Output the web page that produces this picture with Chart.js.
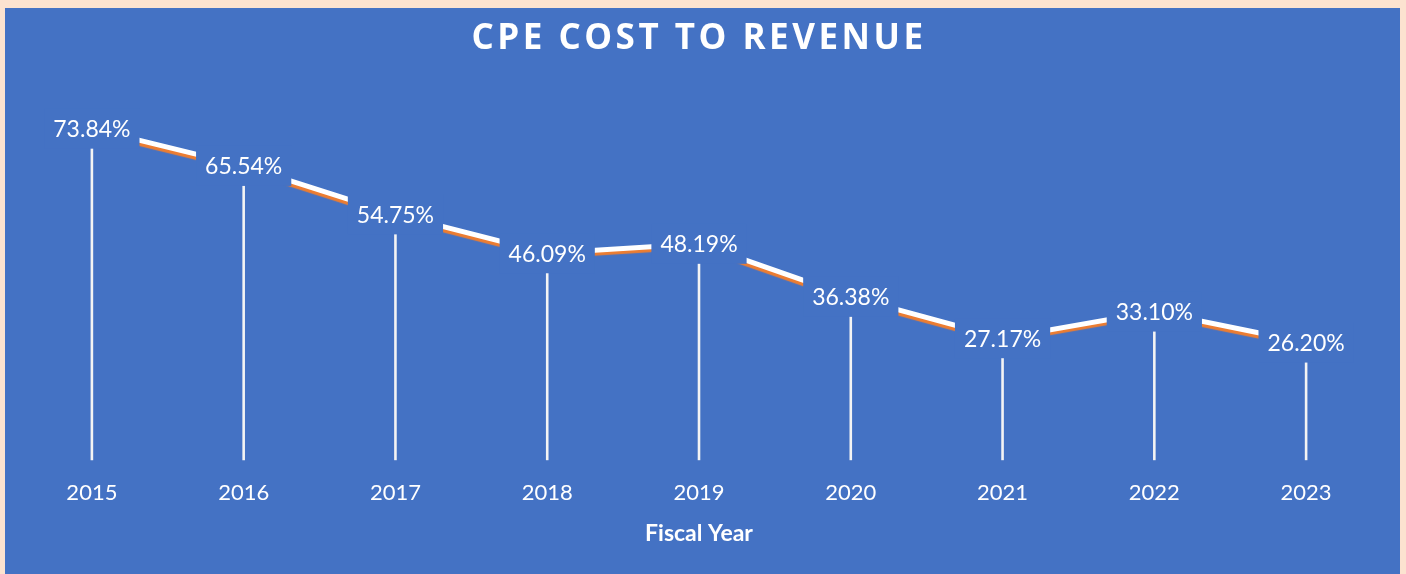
<!DOCTYPE html>
<html>
<head>
<meta charset="utf-8">
<script src="https://cdn.jsdelivr.net/npm/chart.js@4/dist/chart.umd.min.js"></script>
<style>
  html, body { margin: 0; padding: 0; background: #FCE3D0; width: 1406px; height: 574px; overflow: hidden; }
  #panel { position: absolute; left: 5px; top: 8px; width: 1395px; height: 566px; background: #4472C4; }
</style>
</head>
<body>
<div id="panel"><canvas id="c"></canvas></div>
<script>
const categories = ['2015', '2016', '2017', '2018', '2019', '2020', '2021', '2022', '2023'];
const costToRevenue = [73.84, 65.54, 54.75, 46.09, 48.19, 36.38, 27.17, 33.10, 26.20];
const titleText = 'CPE COST TO REVENUE';
const axisTitle = 'Fiscal Year';

const BLUE = '#4472C4';
const FONT = 'Lato, "Open Sans", sans-serif';

const decorations = {
  id: 'decorations',
  afterInit(chart) {
    const tb = chart.titleBlock;
    if (tb) {
      const orig = tb.draw.bind(tb);
      tb.draw = function () {
        const ctx = this.ctx;
        ctx.save();
        ctx.letterSpacing = '3.5px';
        orig();
        ctx.restore();
      };
    }
  },
  beforeDatasetsDraw(chart) {
    const ctx = chart.ctx;
    const meta = chart.getDatasetMeta(0);
    const base = chart.scales.y.getPixelForValue(0);
    ctx.save();
    ctx.strokeStyle = '#F4F4F4';
    ctx.lineWidth = 2.6;
    meta.data.forEach(p => {
      ctx.beginPath();
      ctx.moveTo(p.x, p.y);
      ctx.lineTo(p.x, base);
      ctx.stroke();
    });
    ctx.restore();
  },
  beforeDatasetDraw(chart) {
    const ctx = chart.ctx;
    ctx.save();
    ctx.shadowColor = '#ED7D31';
    ctx.shadowOffsetX = -1;
    ctx.shadowOffsetY = 3;
    ctx.shadowBlur = 1;
  },
  afterDatasetDraw(chart) {
    chart.ctx.restore();
  },
  afterDatasetsDraw(chart) {
    const ctx = chart.ctx;
    const meta = chart.getDatasetMeta(0);
    ctx.save();
    ctx.font = '23px ' + FONT;
    ctx.textAlign = 'center';
    ctx.textBaseline = 'middle';
    meta.data.forEach((p, i) => {
      const txt = costToRevenue[i].toFixed(2) + '%';
      const w = ctx.measureText(txt).width + 18;
      const h = 40;
      ctx.fillStyle = BLUE;
      ctx.fillRect(p.x - w / 2, p.y - h / 2, w, h);
      ctx.fillStyle = '#FFFFFF';
      ctx.fillText(txt, p.x, p.y + 1);
    });
    ctx.restore();
  }
};

new Chart(document.getElementById('c'), {
  type: 'line',
  data: {
    labels: categories,
    datasets: [{
      data: costToRevenue,
      borderColor: '#FFFFFF',
      borderWidth: 5,
      pointRadius: 0,
      tension: 0,
      fill: false
    }]
  },
  options: {
    responsive: true,
    maintainAspectRatio: false,
    animation: false,
    layout: { padding: { left: 11, right: 18, top: 0, bottom: 26.8 } },
    plugins: {
      legend: { display: false },
      tooltip: { enabled: false },
      title: {
        display: true,
        text: titleText,
        color: '#FFFFFF',
        font: { family: '"Open Sans", Lato, sans-serif', size: 35, weight: 'bold' },
        padding: { top: 10, bottom: 41 }
      }
    },
    scales: {
      x: {
        offset: true,
        grid: { display: false, drawTicks: false },
        border: { display: false },
        ticks: { color: '#FFFFFF', font: { family: FONT, size: 22 }, padding: 20, maxRotation: 0 },
        title: {
          display: true,
          text: axisTitle,
          color: '#FFFFFF',
          font: { family: FONT, size: 23, weight: 'bold' },
          padding: { top: -7, bottom: 0 }
        }
      },
      y: {
        display: false,
        min: 0,
        max: 80
      }
    }
  },
  plugins: [decorations]
});
</script>
</body>
</html>
